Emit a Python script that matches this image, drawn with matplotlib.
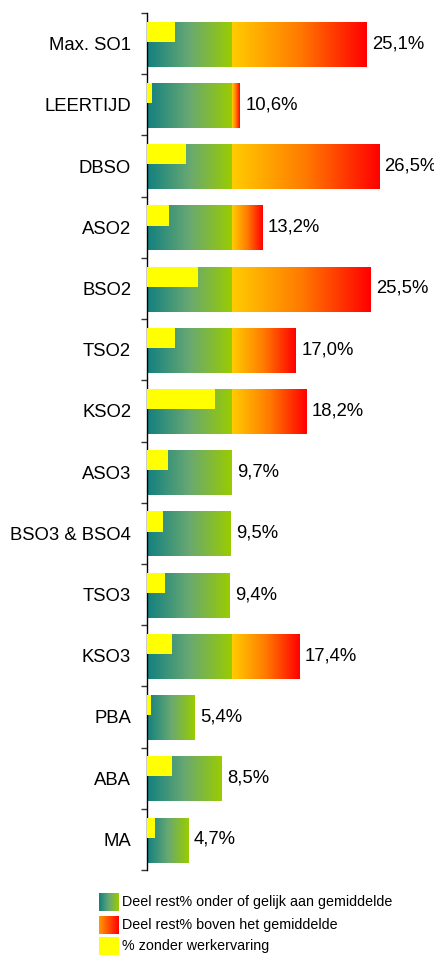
import numpy as np
import matplotlib
matplotlib.use("Agg")
import matplotlib.pyplot as plt
from matplotlib.colors import LinearSegmentedColormap
from matplotlib.patches import Rectangle

plt.rcParams['font.family'] = ['Liberation Sans', 'DejaVu Sans']

categories = ["Max. SO1", "LEERTIJD", "DBSO", "ASO2", "BSO2", "TSO2", "KSO2",
              "ASO3", "BSO3 & BSO4", "TSO3", "KSO3", "PBA", "ABA", "MA"]
rest_pct = [25.1, 10.6, 26.5, 13.2, 25.5, 17.0, 18.2, 9.7, 9.5, 9.4, 17.4, 5.4, 8.5, 4.7]
zonder_werkervaring = [3.2, 0.6, 4.5, 2.5, 5.8, 3.2, 7.8, 2.4, 1.8, 2.1, 2.9, 0.5, 2.9, 0.9]
average = 9.7
legend_labels = ["Deel rest% onder of gelijk aan gemiddelde",
                 "Deel rest% boven het gemiddelde",
                 "% zonder werkervaring"]

green_cmap = LinearSegmentedColormap.from_list(
    "grn", [(0.0, "#128080"), (0.5, "#68a872"), (1.0, "#9acc00")])
red_cmap = LinearSegmentedColormap.from_list(
    "red", [(0.0, "#ffcc00"), (0.5, "#ff7a00"), (1.0, "#ff0000")])
grad = np.linspace(0, 1, 256).reshape(1, -1)

W, H = 435, 955
fig = plt.figure(figsize=(W / 100, H / 100), dpi=100)
ax = fig.add_axes([147 / W, 1 - 870 / H, 1 - 147 / W, (870 - 13) / H])

bar_h = 0.735
yel_h = 0.33
for i, (v, z) in enumerate(zip(rest_pct, zonder_werkervaring)):
    top = i - bar_h / 2 + 0.01
    bot = i + bar_h / 2 + 0.01
    g = min(v, average)
    ax.imshow(grad, cmap=green_cmap, extent=[0, g, bot, top], aspect='auto',
              interpolation='bilinear', zorder=2)
    if v > average:
        ax.imshow(grad, cmap=red_cmap, extent=[average, v, bot, top], aspect='auto',
                  interpolation='bilinear', zorder=2)
    ax.add_patch(Rectangle((0, top), z, yel_h, facecolor="#ffff00", edgecolor='none', zorder=3))
    ax.annotate(f"{v:.1f}%".replace(".", ","), xy=(v, i), xytext=(4, 0),
                textcoords='offset points', va='center', ha='left', fontsize=13.3)

ax.set_xlim(0, 32.9)
ax.set_ylim(len(categories) - 0.5, -0.5)
ax.set_aspect('auto')

for s in ['top', 'right', 'bottom']:
    ax.spines[s].set_visible(False)
ax.spines['left'].set_color('black')
ax.spines['left'].set_linewidth(1.0)
ax.set_xticks([])
ax.set_yticks(range(len(categories)))
ax.set_yticklabels(categories, fontsize=13.3)
ax.tick_params(axis='y', which='major', length=0, pad=11.5)
ax.set_yticks(np.arange(-0.5, len(categories), 1.0), minor=True)
ax.tick_params(axis='y', which='minor', length=4.5, width=1, color='#333333')

# legend
rows_y = [902, 925, 946]
for k, (lab, y) in enumerate(zip(legend_labels, rows_y)):
    sax = fig.add_axes([99 / W, 1 - (y + 9) / H, 20 / W, 18 / H])
    sax.set_axis_off()
    if k == 0:
        sax.imshow(grad, cmap=green_cmap, aspect='auto', extent=[0, 1, 0, 1])
    elif k == 1:
        sax.imshow(grad, cmap=LinearSegmentedColormap.from_list(
            "lr", ["#ff9900", "#ff0000"]), aspect='auto', extent=[0, 1, 0, 1])
    else:
        sax.add_patch(Rectangle((0, 0), 1, 1, facecolor="#ffff00", edgecolor='none'))
        sax.set_xlim(0, 1)
        sax.set_ylim(0, 1)
    fig.text(122 / W, 1 - y / H, lab, fontsize=10.3, va='center', ha='left')

fig.savefig("out.png", dpi=100)
